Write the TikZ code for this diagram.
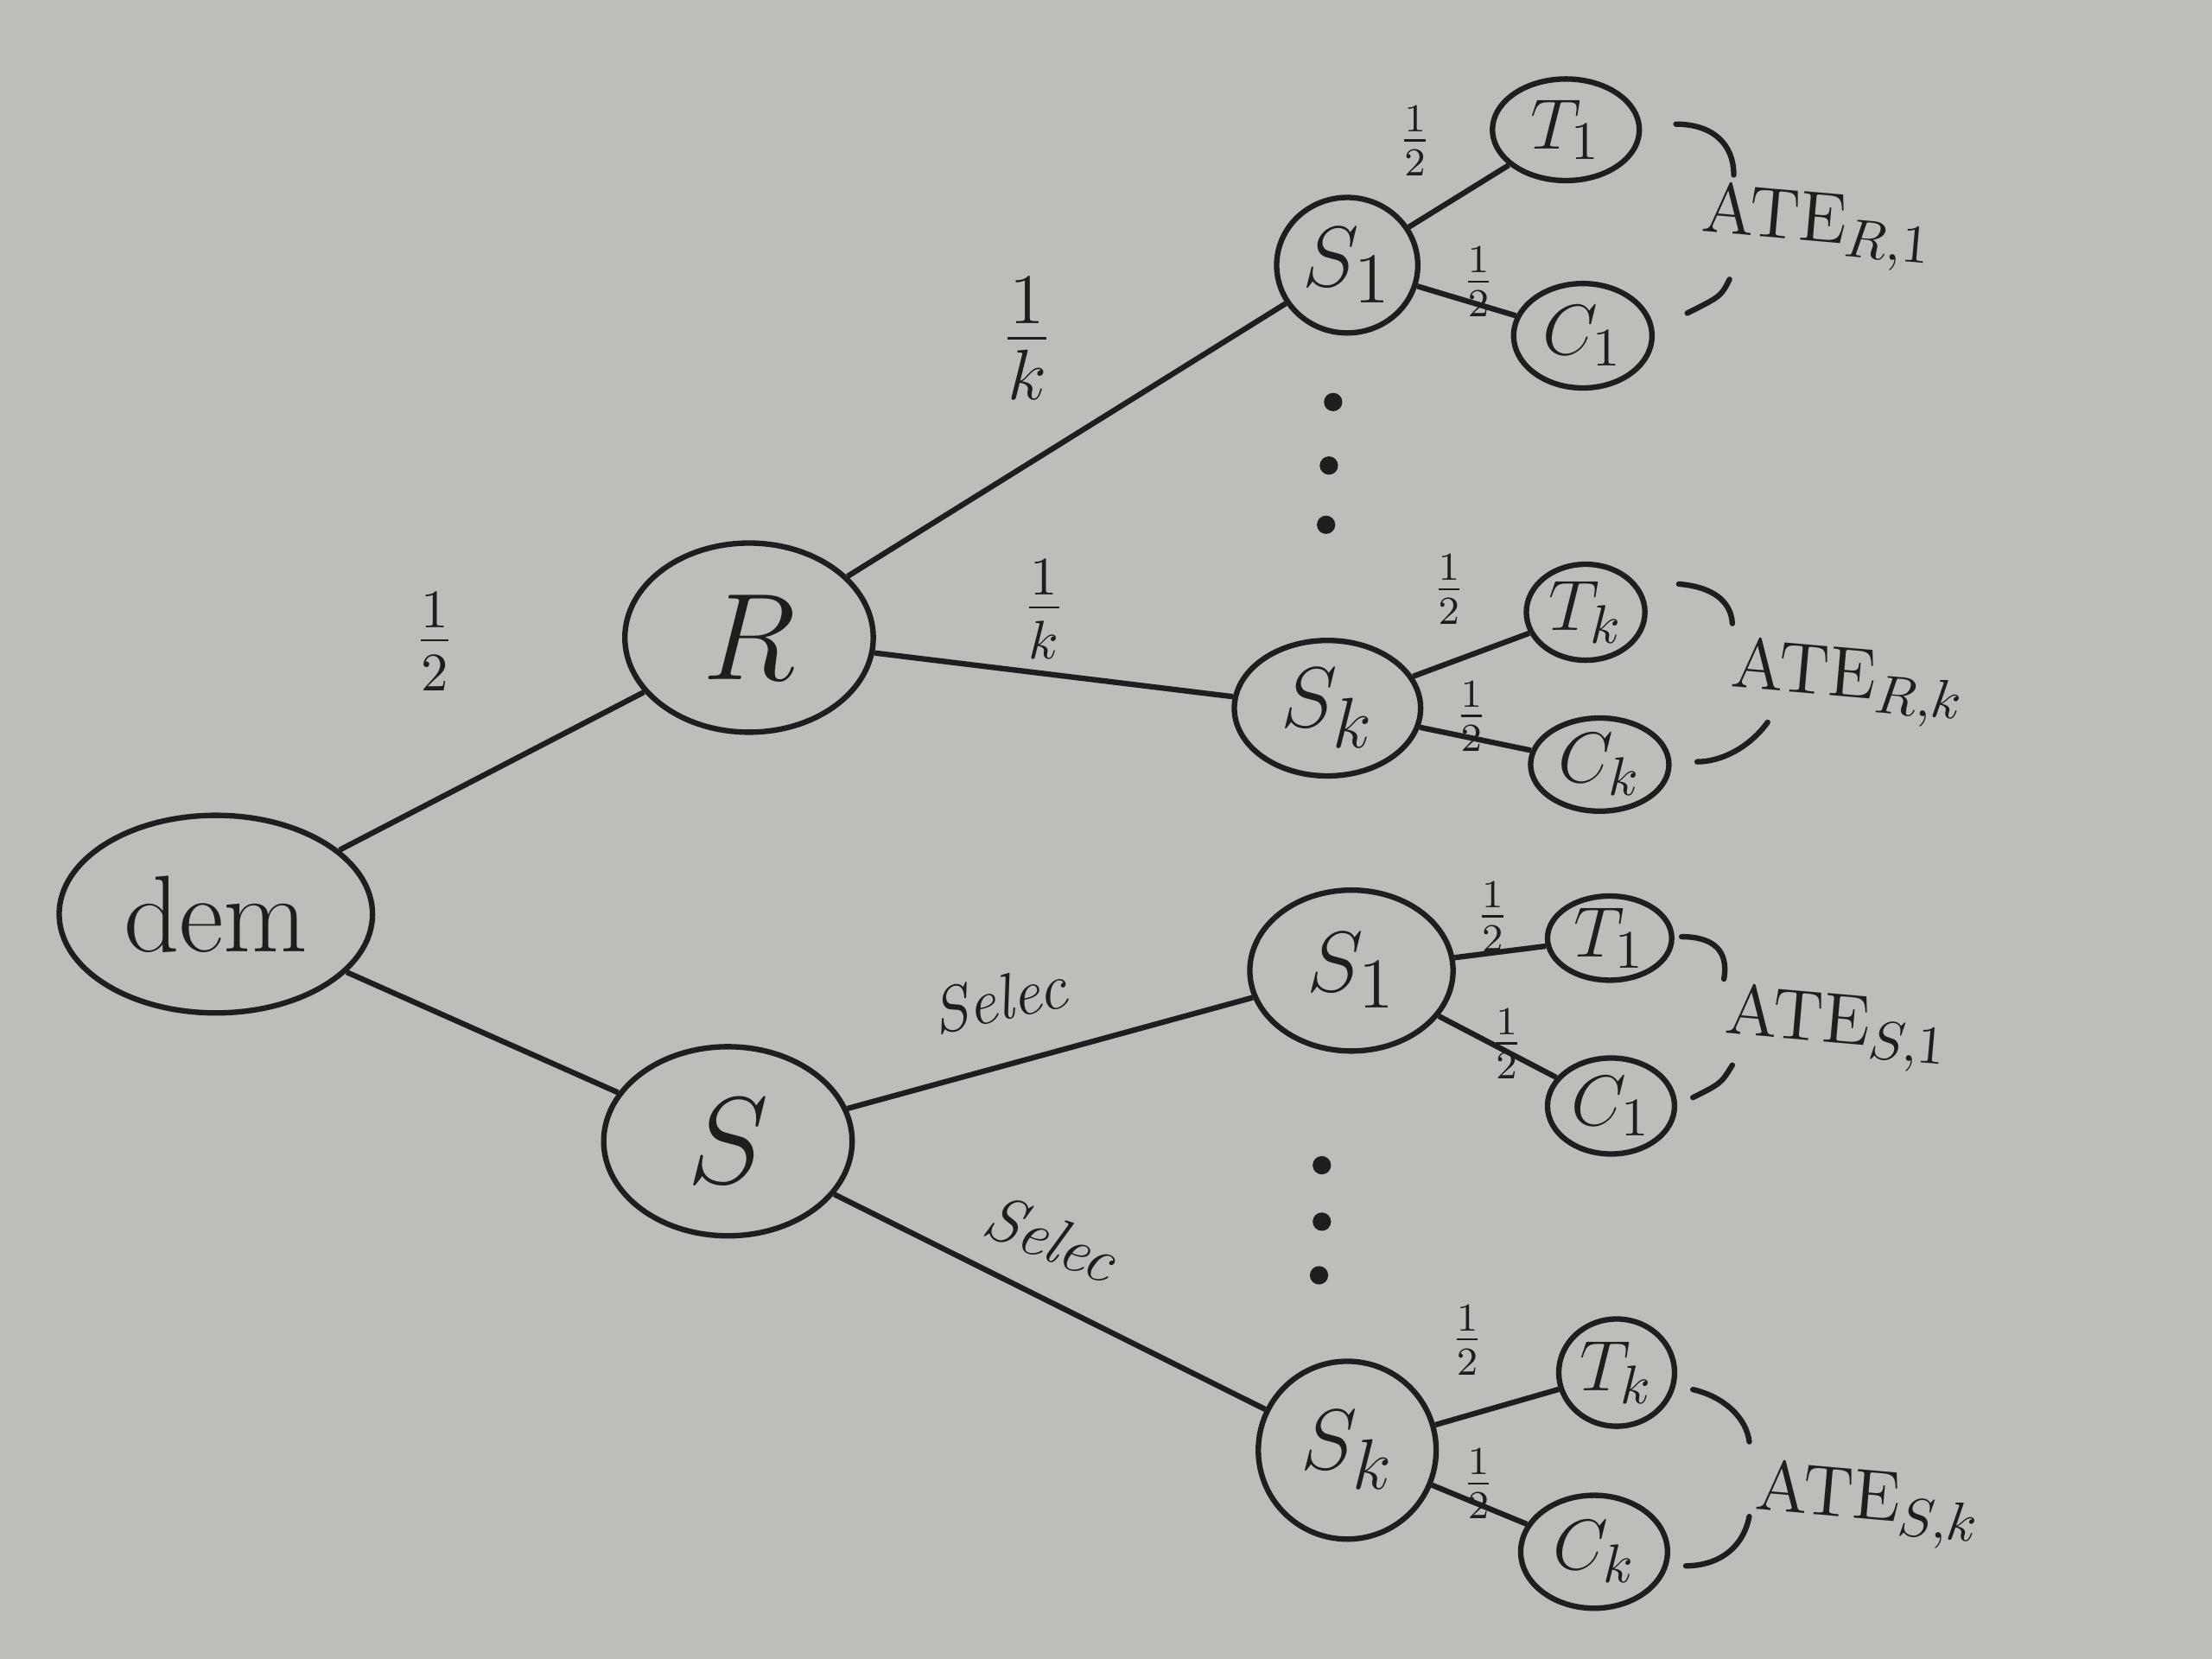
\documentclass[tikz,border=0pt]{standalone}
\usetikzlibrary{shapes.geometric}
\definecolor{board}{RGB}{188,190,186}
\definecolor{ink}{RGB}{30,30,30}
\begin{document}
\begin{tikzpicture}[x=0.01cm,y=-0.01cm,
  nd/.style={draw=ink, ellipse, inner sep=0pt, line width=1.1pt, text=ink},
  edge/.style={draw=ink, line width=1.1pt},
  brk/.style={draw=ink, line width=1.1pt, line cap=round},
  lbl/.style={text=ink, inner sep=1pt},
  half/.style={lbl, font=\fontsize{12}{14}\selectfont},
  ate/.style={lbl, font=\fontsize{15}{18}\selectfont},
  dotmark/.style={circle, fill=ink, inner sep=0pt, minimum size=1.3mm}]
\fill[board] (0,0) rectangle (1568,1176);
\useasboundingbox (0,0) rectangle (1568,1176);

% main nodes
\node[nd, minimum width=2.22cm, minimum height=1.40cm, font=\fontsize{22}{24}\selectfont] (dem) at (153,648) {dem};
\node[nd, minimum width=1.76cm, minimum height=1.34cm, font=\fontsize{26}{28}\selectfont] (R) at (531,452) {$R$};
\node[nd, minimum width=1.76cm, minimum height=1.34cm, font=\fontsize{26}{28}\selectfont] (S) at (516,809) {$S$};

% R branch
\node[nd, minimum width=1.00cm, minimum height=0.96cm, font=\fontsize{19}{21}\selectfont] (s1) at (955,188) {$S_1$};
\node[nd, minimum width=1.04cm, minimum height=0.72cm, font=\fontsize{15}{17}\selectfont] (t1) at (1110,92) {$T_1$};
\node[nd, minimum width=0.98cm, minimum height=0.74cm, font=\fontsize{15}{17}\selectfont] (c1) at (1122,238) {$C_1$};
\node[nd, minimum width=1.32cm, minimum height=0.96cm, font=\fontsize{19}{21}\selectfont] (sk) at (941,502) {$S_k$};
\node[nd, minimum width=0.84cm, minimum height=0.68cm, font=\fontsize{15}{17}\selectfont] (tk) at (1124,434) {$T_k$};
\node[nd, minimum width=0.98cm, minimum height=0.66cm, font=\fontsize{15}{17}\selectfont] (ck) at (1134,542) {$C_k$};

% S branch
\node[nd, minimum width=1.44cm, minimum height=1.14cm, font=\fontsize{19}{21}\selectfont] (s1b) at (958,688) {$S_1$};
\node[nd, minimum width=0.88cm, minimum height=0.56cm, font=\fontsize{15}{17}\selectfont] (t1b) at (1141,665) {$T_1$};
\node[nd, minimum width=0.90cm, minimum height=0.68cm, font=\fontsize{15}{17}\selectfont] (c1b) at (1142,784) {$C_1$};
\node[nd, minimum width=1.26cm, minimum height=1.26cm, font=\fontsize{19}{21}\selectfont] (skb) at (955,1028) {$S_k$};
\node[nd, minimum width=0.82cm, minimum height=0.76cm, font=\fontsize{15}{17}\selectfont] (tkb) at (1146,973) {$T_k$};
\node[nd, minimum width=1.04cm, minimum height=0.80cm, font=\fontsize{15}{17}\selectfont] (ckb) at (1130,1100) {$C_k$};

% edges
\draw[edge] (dem) -- (R);
\draw[edge] (dem) -- (S);
\draw[edge] (R) -- (s1);
\draw[edge] (R) -- (sk);
\draw[edge] (S) -- (s1b);
\draw[edge] (S) -- (skb);
\draw[edge] (s1) -- (t1);
\draw[edge] (s1) -- (c1);
\draw[edge] (sk) -- (tk);
\draw[edge] (sk) -- (ck);
\draw[edge] (s1b) -- (t1b);
\draw[edge] (s1b) -- (c1b);
\draw[edge] (skb) -- (tkb);
\draw[edge] (skb) -- (ckb);

% edge labels
\node[lbl, font=\fontsize{16}{18}\selectfont] (l1) at (308,455) {$\frac{1}{2}$};
\node[lbl, font=\fontsize{22}{24}\selectfont] (l2) at (728,240) {$\frac{1}{k}$};
\node[lbl, font=\fontsize{16}{18}\selectfont] (l3) at (740,432) {$\frac{1}{k}$};
\node[lbl, font=\itshape\fontsize{13}{15}\selectfont, rotate=12] (l4) at (708,708) {Selec};
\node[lbl, font=\itshape\fontsize{13}{15}\selectfont, rotate=-22] (l5) at (745,878) {Selec};

\node[half] (h1) at (1003,100) {$\frac{1}{2}$};
\node[half] (h2) at (1048,200) {$\frac{1}{2}$};
\node[half] (h3) at (1027,418) {$\frac{1}{2}$};
\node[half] (h4) at (1043,508) {$\frac{1}{2}$};
\node[half] (h5) at (1058,650) {$\frac{1}{2}$};
\node[half] (h6) at (1068,740) {$\frac{1}{2}$};
\node[half] (h7) at (1040,950) {$\frac{1}{2}$};
\node[half] (h8) at (1048,1052) {$\frac{1}{2}$};

% ATE labels
\node[ate, rotate=-5] (a1) at (1288,162) {$\mathrm{ATE}_{R,1}$};
\node[ate, rotate=-5] (a2) at (1310,485) {$\mathrm{ATE}_{R,k}$};
\node[ate, rotate=-5] (a3) at (1302,730) {$\mathrm{ATE}_{S,1}$};
\node[ate, rotate=-5] (a4) at (1324,1068) {$\mathrm{ATE}_{S,k}$};

% brackets
\coordinate (b1a) at (1188,88);  \coordinate (b1b) at (1229,124);
\coordinate (b1c) at (1226,198); \coordinate (b1d) at (1196,222);
\draw[brk] (b1a) .. controls (1214,88) and (1229,102) .. (b1b);
\draw[brk] (b1c) .. controls (1220,210) .. (b1d);
\coordinate (b2a) at (1190,414); \coordinate (b2b) at (1228,442);
\coordinate (b2c) at (1253,512); \coordinate (b2d) at (1203,540);
\draw[brk] (b2a) .. controls (1214,416) and (1227,426) .. (b2b);
\draw[brk] (b2c) .. controls (1240,530) and (1220,540) .. (b2d);
\coordinate (b3a) at (1192,664); \coordinate (b3b) at (1222,694);
\coordinate (b3c) at (1228,755); \coordinate (b3d) at (1200,778);
\draw[brk] (b3a) .. controls (1212,664) and (1226,672) .. (b3b);
\draw[brk] (b3c) .. controls (1220,768) .. (b3d);
\coordinate (b4a) at (1200,985); \coordinate (b4b) at (1240,1022);
\coordinate (b4c) at (1240,1075); \coordinate (b4d) at (1195,1110);
\draw[brk] (b4a) .. controls (1222,990) and (1238,1005) .. (b4b);
\draw[brk] (b4c) .. controls (1235,1100) and (1215,1110) .. (b4d);

% dots
\node[dotmark] (d1) at (945,285) {};
\node[dotmark] (d2) at (942,330) {};
\node[dotmark] (d3) at (940,372) {};
\node[dotmark] (d4) at (937,826) {};
\node[dotmark] (d5) at (937,866) {};
\node[dotmark] (d6) at (935,904) {};
\end{tikzpicture}
\end{document}
